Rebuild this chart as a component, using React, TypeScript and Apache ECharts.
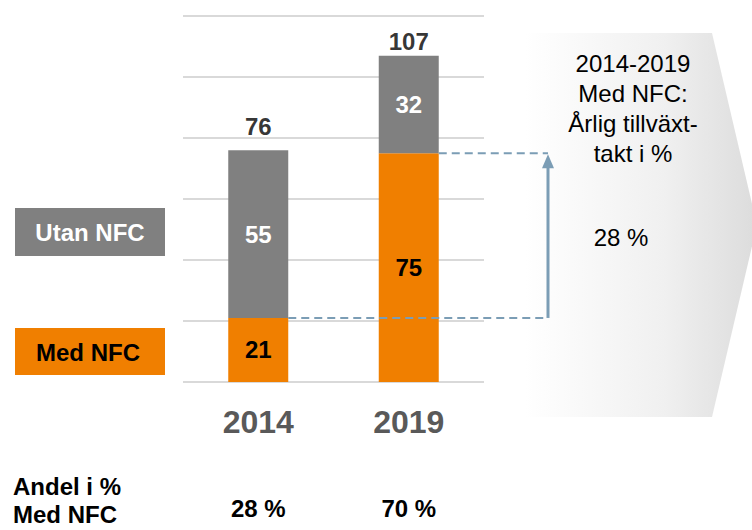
import React, { useEffect, useRef } from "react";
import * as echarts from "echarts";

const categories = ["2014", "2019"];
const medNfc = [21, 75];
const utanNfc = [55, 32];
const totals = medNfc.map((v, i) => v + utanNfc[i]);
const shareLabels = ["28 %", "70 %"];
const shareTitle = "Andel i %\nMed NFC";
const growthTitle = "2014-2019\nMed NFC:\nÅrlig tillväxt-\ntakt i %";
const growthValue = "28 %";
const legendNames = ["Utan NFC", "Med NFC"];
const yMin = 0;
const yMax = 120;
const yInterval = 20;

const FONT = "Liberation Sans, Arial, sans-serif";
const ORANGE = "#f07f00";
const GRAY = "#808080";
const ARROW = "#7b9db5";

export default function App() {
  const ref = useRef<HTMLDivElement>(null);
  useEffect(() => {
    document.body.style.margin = "0";
    if (!ref.current) return;
    const chart = echarts.init(ref.current, undefined, { renderer: "svg" });
    const option: any = {
      animation: false,
      backgroundColor: "#ffffff",
      grid: { left: 183, right: 268, top: 16, bottom: 148 },
      xAxis: {
        type: "category",
        data: categories,
        axisLine: { show: false },
        axisTick: { show: false },
        axisLabel: {
          margin: 24,
          fontSize: 32,
          fontWeight: "bold",
          color: "#595959",
          fontFamily: FONT,
        },
      },
      yAxis: {
        type: "value",
        min: yMin,
        max: yMax,
        interval: yInterval,
        axisLabel: { show: false },
        axisLine: { show: false },
        axisTick: { show: false },
        splitLine: { lineStyle: { color: "#d9d9d9", width: 2 } },
      },
      series: [
        {
          name: legendNames[1],
          type: "bar",
          stack: "total",
          barWidth: 60,
          data: medNfc,
          itemStyle: { color: ORANGE },
          label: {
            show: true,
            position: "inside",
            color: "#000000",
            fontSize: 24,
            fontWeight: "bold",
            fontFamily: FONT,
          },
        },
        {
          name: legendNames[0],
          type: "bar",
          stack: "total",
          barWidth: 60,
          data: utanNfc,
          itemStyle: { color: GRAY },
          label: {
            show: true,
            position: "inside",
            color: "#ffffff",
            fontSize: 24,
            fontWeight: "bold",
            fontFamily: FONT,
          },
        },
        {
          name: "Totalt",
          type: "scatter",
          symbolSize: 0,
          silent: true,
          data: totals.map((v, i) => ({
            value: v,
            label: { distance: i === 0 ? 12 : 2 },
          })),
          label: {
            show: true,
            position: "top",
            color: "#000000",
            fontSize: 24,
            fontWeight: "bold",
            fontFamily: FONT,
          },
          z: 5,
        },
      ],
    };
    chart.setOption(option);

    const xs = categories.map(
      (c) => chart.convertToPixel({ xAxisIndex: 0 }, c) as number
    );
    const yMed = medNfc.map(
      (v) => chart.convertToPixel({ yAxisIndex: 0 }, v) as number
    );
    const arrowX = 548;
    const halfBar = 30;

    const graphic: any[] = [
      {
        type: "polygon",
        z: 0,
        shape: {
          points: [
            [525, 33],
            [712, 33],
            [757, 225],
            [712, 417],
            [525, 417],
          ],
        },
        style: {
          fill: new echarts.graphic.LinearGradient(0, 0, 1, 0, [
            { offset: 0, color: "#ffffff" },
            { offset: 0.6, color: "#f0f0f0" },
            { offset: 1, color: "#dcdcdc" },
          ]),
        },
      },
      {
        type: "text",
        z: 20,
        x: 633,
        y: 108,
        style: {
          text: growthTitle,
          fontSize: 24,
          fontFamily: FONT,
          fill: "#000000",
          align: "center",
          verticalAlign: "middle",
          lineHeight: 30,
        },
      },
      {
        type: "text",
        z: 20,
        x: 621,
        y: 237,
        style: {
          text: growthValue,
          fontSize: 24,
          fontFamily: FONT,
          fill: "#000000",
          align: "center",
          verticalAlign: "middle",
        },
      },
      // legend boxes
      {
        type: "rect",
        z: 10,
        shape: { x: 15, y: 208, width: 150, height: 48 },
        style: { fill: GRAY },
      },
      {
        type: "text",
        z: 11,
        x: 90,
        y: 232,
        style: {
          text: legendNames[0],
          fontSize: 24,
          fontWeight: "bold",
          fontFamily: FONT,
          fill: "#ffffff",
          align: "center",
          verticalAlign: "middle",
        },
      },
      {
        type: "rect",
        z: 10,
        shape: { x: 15, y: 328, width: 150, height: 47 },
        style: { fill: ORANGE },
      },
      {
        type: "text",
        z: 11,
        x: 88,
        y: 352,
        style: {
          text: legendNames[1],
          fontSize: 24,
          fontWeight: "bold",
          fontFamily: FONT,
          fill: "#000000",
          align: "center",
          verticalAlign: "middle",
        },
      },
      // bottom share row
      {
        type: "text",
        z: 11,
        x: 13,
        y: 500,
        style: {
          text: shareTitle,
          fontSize: 24,
          fontWeight: "bold",
          fontFamily: FONT,
          fill: "#000000",
          align: "left",
          verticalAlign: "middle",
          lineHeight: 28,
        },
      },
      ...shareLabels.map((t, i) => ({
        type: "text",
        z: 11,
        x: xs[i],
        y: 508,
        style: {
          text: t,
          fontSize: 24,
          fontWeight: "bold",
          fontFamily: FONT,
          fill: "#000000",
          align: "center",
          verticalAlign: "middle",
        },
      })),
      // dashed guide lines
      {
        type: "line",
        z: 15,
        shape: { x1: xs[0] + halfBar, y1: yMed[0], x2: arrowX, y2: yMed[0] },
        style: { stroke: ARROW, lineWidth: 2, lineDash: [8, 5] },
      },
      {
        type: "line",
        z: 15,
        shape: { x1: xs[1] + halfBar, y1: yMed[1], x2: arrowX, y2: yMed[1] },
        style: { stroke: ARROW, lineWidth: 2, lineDash: [8, 5] },
      },
      // arrow
      {
        type: "line",
        z: 16,
        shape: { x1: arrowX, y1: yMed[0], x2: arrowX, y2: yMed[1] + 12 },
        style: { stroke: ARROW, lineWidth: 3 },
      },
      {
        type: "polygon",
        z: 16,
        shape: {
          points: [
            [arrowX, yMed[1] + 1],
            [arrowX - 6, yMed[1] + 15],
            [arrowX + 6, yMed[1] + 15],
          ],
        },
        style: { fill: ARROW },
      },
    ];
    chart.setOption({ graphic });

    return () => chart.dispose();
  }, []);
  return <div ref={ref} style={{ width: 752, height: 530 }} />;
}
